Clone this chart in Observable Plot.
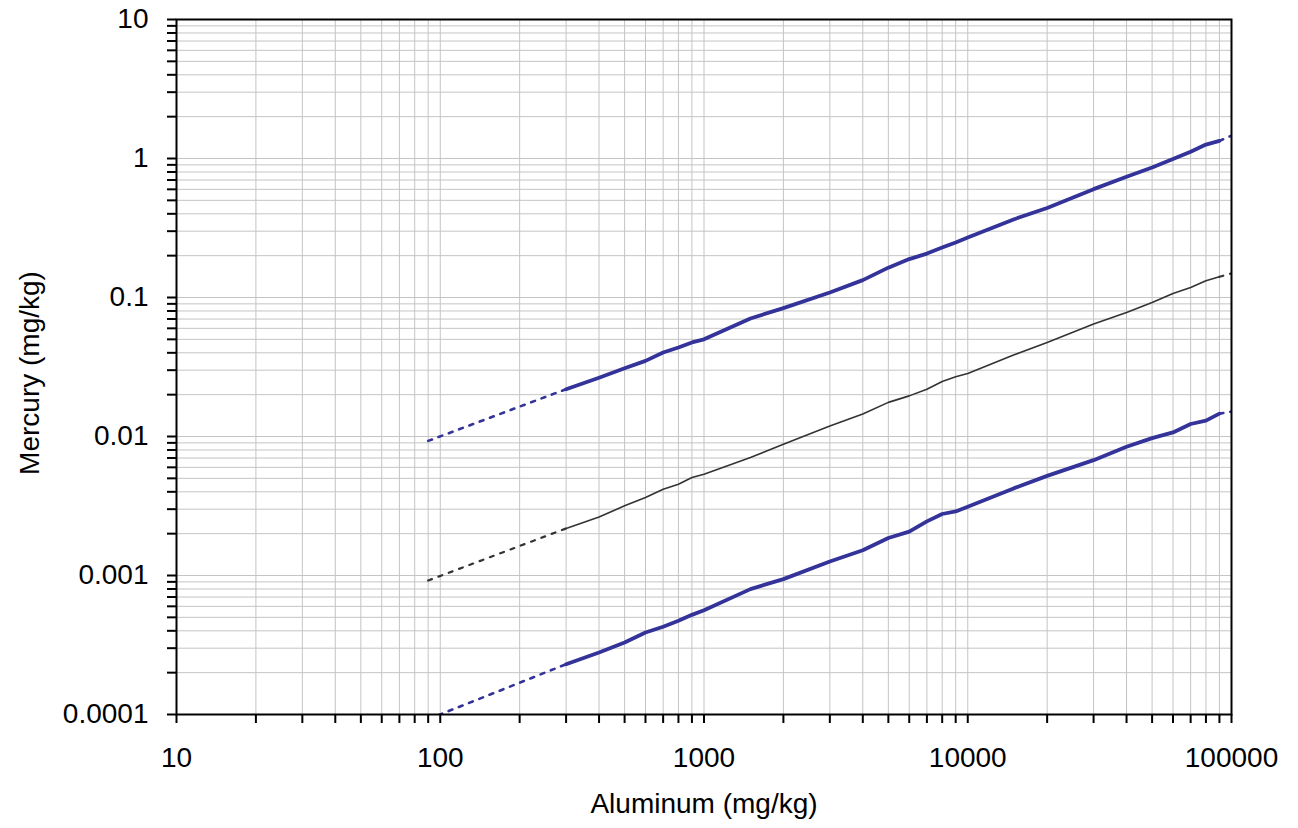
<!DOCTYPE html>
<html>
<head>
<meta charset="utf-8">
<script src="https://cdn.jsdelivr.net/npm/d3@7"></script>
<script src="https://cdn.jsdelivr.net/npm/@observablehq/plot@0.6"></script>
<style>
  html, body { margin: 0; padding: 0; background: #ffffff; }
</style>
</head>
<body>
<div id="chart"></div>
<script>
// ---- data ----
const aluminum = [90, 300, 400, 500, 600, 700, 800, 900, 1000, 1500, 2000, 3000, 4000, 5000, 6000, 7000, 8000, 9000, 10000, 15000, 20000, 30000, 40000, 50000, 60000, 70000, 80000, 90000, 100000];
const upperMercury = [0.0093, 0.0219, 0.0265, 0.031, 0.035, 0.0402, 0.0437, 0.0475, 0.050, 0.0706, 0.0839, 0.1087, 0.1333, 0.164, 0.189, 0.207, 0.229, 0.249, 0.270, 0.366, 0.440, 0.602, 0.738, 0.861, 0.99, 1.12, 1.26, 1.34, 1.46];
const middleMercury = [0.00092, 0.00218, 0.00264, 0.00317, 0.00364, 0.00418, 0.00454, 0.00507, 0.00536, 0.00706, 0.00881, 0.0119, 0.0145, 0.0176, 0.0196, 0.0219, 0.0249, 0.0269, 0.0284, 0.0387, 0.0475, 0.0644, 0.078, 0.092, 0.107, 0.118, 0.132, 0.141, 0.149];
const lowerMercury = [0.0000925, 0.000230, 0.000279, 0.00033, 0.000389, 0.000428, 0.000472, 0.000521, 0.000563, 0.000798, 0.000942, 0.00126, 0.00152, 0.00186, 0.00207, 0.00245, 0.00277, 0.00289, 0.00312, 0.00425, 0.00521, 0.00676, 0.00843, 0.00973, 0.0107, 0.0123, 0.0130, 0.0146, 0.0151];
const solidFrom = 300;
const solidTo = 90000;

const xMajor = [10, 100, 1000, 10000, 100000];
const xLabels = ["10", "100", "1000", "10000", "100000"];
const yMajor = [0.0001, 0.001, 0.01, 0.1, 1, 10];
const yLabels = ["0.0001", "0.001", "0.01", "0.1", "1", "10"];
const xTitle = "Aluminum (mg/kg)";
const yTitle = "Mercury (mg/kg)";

// ---- build tables ----
const seriesDefs = [
  {name: "upper", values: upperMercury, color: "#333399", width: 3.8, dashWidth: 2.6},
  {name: "middle", values: middleMercury, color: "#333333", width: 1.6, dashWidth: 2.2},
  {name: "lower", values: lowerMercury, color: "#333399", width: 3.8, dashWidth: 2.6}
];
const rows = [];
for (const s of seriesDefs) {
  aluminum.forEach((x, i) => rows.push({series: s.name, x, y: s.values[i]}));
}

const xDomain = [xMajor[0], xMajor[xMajor.length - 1]];
const yDomain = [yMajor[0], yMajor[yMajor.length - 1]];
const xTicksAll = d3.scaleLog().domain(xDomain).ticks();
const yTicksAll = d3.scaleLog().domain(yDomain).ticks();

function labelFor(majors, labels) {
  return d => {
    const i = majors.findIndex(m => Math.abs(m - d) / m < 1e-9);
    return i >= 0 ? labels[i] : "";
  };
}

const lineMarks = [];
for (const s of seriesDefs) {
  const pts = rows.filter(r => r.series === s.name);
  lineMarks.push(Plot.line(pts.filter(r => r.x <= solidFrom), {x: "x", y: "y", stroke: s.color, strokeWidth: s.dashWidth, strokeDasharray: "4,7", clip: true}));
  lineMarks.push(Plot.line(pts.filter(r => r.x >= solidTo), {x: "x", y: "y", stroke: s.color, strokeWidth: s.dashWidth, strokeDasharray: "4,7", clip: true}));
  lineMarks.push(Plot.line(pts.filter(r => r.x >= solidFrom && r.x <= solidTo), {x: "x", y: "y", stroke: s.color, strokeWidth: s.width, clip: true}));
}

const FS = 28;
const chart = Plot.plot({
  width: 1298,
  height: 828,
  marginLeft: 176,
  marginRight: 67,
  marginTop: 19,
  marginBottom: 114,
  x: {type: "log", domain: xDomain},
  y: {type: "log", domain: yDomain},
  style: {fontFamily: "'Liberation Sans', Arial, sans-serif", fontSize: FS + "px", background: "#ffffff", color: "#000000"},
  marks: [
    Plot.gridX(xTicksAll, {stroke: "#c4c4c4", strokeOpacity: 1, strokeWidth: 1}),
    Plot.gridY(yTicksAll, {stroke: "#c4c4c4", strokeOpacity: 1, strokeWidth: 1}),
    ...lineMarks,
    Plot.frame({stroke: "#000000", strokeWidth: 2}),
    Plot.axisX(xTicksAll, {tickSize: 9, tickPadding: 24, strokeWidth: 2, tickFormat: labelFor(xMajor, xLabels), label: null, fontSize: FS}),
    Plot.axisY(yTicksAll, {tickSize: 9, tickPadding: 19, strokeWidth: 2, tickFormat: labelFor(yMajor, yLabels), label: null, fontSize: FS}),
    Plot.text([xTitle], {frameAnchor: "bottom", dy: 90, text: d => d, fontSize: FS, textAnchor: "middle", lineAnchor: "middle"}),
    Plot.text([yTitle], {frameAnchor: "left", dx: -146, dy: 6, rotate: -90, text: d => d, fontSize: FS, textAnchor: "middle", lineAnchor: "middle"})
  ]
});
document.getElementById("chart").appendChild(chart);
</script>
</body>
</html>
